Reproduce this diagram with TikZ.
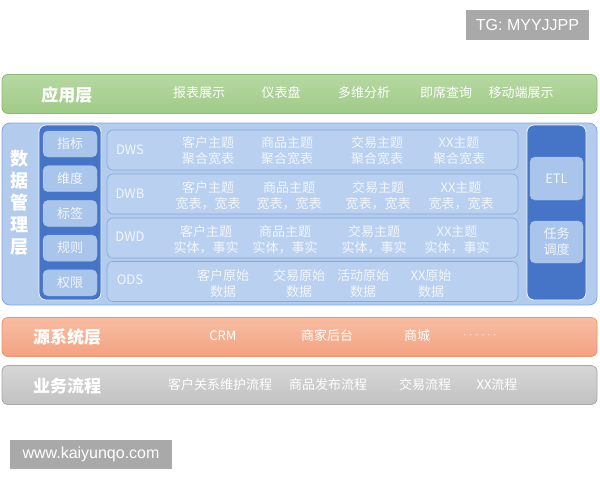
\documentclass[tikz,border=0pt]{standalone}
\usepackage{fontspec}
\setmainfont{Noto Sans CJK SC}
\newfontfamily\latinfont{Liberation Sans}
\usepackage{tikz}
\usetikzlibrary{calc}
\definecolor{greentop}{HTML}{B6D8A2}
\definecolor{greenbot}{HTML}{A0CB88}
\definecolor{greenline}{HTML}{8DB878}
\definecolor{orangetop}{HTML}{F8BDA2}
\definecolor{orangebot}{HTML}{F3A282}
\definecolor{orangeline}{HTML}{E8956F}
\definecolor{graytop}{HTML}{D6D6D6}
\definecolor{graybot}{HTML}{C2C2C2}
\definecolor{grayline}{HTML}{A8A8A8}
\definecolor{paleblue}{HTML}{B3CCEE}
\definecolor{blueline}{HTML}{86A9DC}
\definecolor{darkblue}{HTML}{4675C8}
\definecolor{cellblue}{HTML}{A9C5EC}
\definecolor{rowblue}{HTML}{B9D0F1}
\definecolor{softwhite}{HTML}{F2F6FC}
\definecolor{tagbox}{HTML}{A9A9A9}
\tikzset{
  bar/.style={draw, line width=0.8pt, rounded corners=6pt, minimum width=595pt, minimum height=39pt},
  bartitle/.style={text=white, font=\fontsize{17}{17}\selectfont\bfseries},
  baritem/.style={text=white, font=\fontsize{13}{13}\selectfont},
  rowbox/.style={draw=blueline, fill=rowblue, line width=0.6pt, rounded corners=6pt, minimum width=411pt, minimum height=40pt},
  rowtext/.style={text=softwhite, align=center, font=\fontsize{13}{16}\selectfont},
  cellbox/.style={draw=blueline!70, fill=cellblue, rounded corners=5pt, text=softwhite, align=center, font=\fontsize{13}{16}\selectfont},
  tagnode/.style={fill=tagbox, text=white, font=\latinfont\fontsize{16}{16}\selectfont}
}
\begin{document}
\begin{tikzpicture}[x=1pt, y=-1pt]
			%%%%% START %%%%%
			\useasboundingbox (0, 0) rectangle (600, 480);
			\fill[white] (0, 0) rectangle (600, 480);
			
			\node[tagnode, minimum width=123pt, minimum height=30pt] (tg) at (527.5, 25) {TG: MYYJJPP};
			
			% application layer
			\node[bar, draw=greenline, top color=greentop, bottom color=greenbot] (app) at (299.5, 94) {};
			\node[bartitle] (apptitle) at (67, 95) {应用层};
			\node[baritem] (app1) at (199, 93) {报表展示};
			\node[baritem] (app2) at (281, 93) {仪表盘};
			\node[baritem] (app3) at (364, 93) {多维分析};
			\node[baritem] (app4) at (446, 93) {即席查询};
			\node[baritem] (app5) at (521, 93) {移动端展示};
			
			% data management layer
			\node[draw=blueline, fill=paleblue, line width=0.8pt, rounded corners=8pt, minimum width=595pt, minimum height=182pt] (data) at (299.5, 214) {};
			\node[text=white, align=center, font=\fontsize{18}{22}\selectfont\bfseries] (datatitle) at (19, 203) {数\\据\\管\\理\\层};
			
			\node[draw=softwhite, fill=darkblue, line width=0.8pt, rounded corners=7pt, minimum width=62pt, minimum height=175pt] (leftcol) at (70, 212.5) {};
			\node[cellbox, minimum width=54pt, minimum height=26pt] (idx) at (70, 144) {指标};
			\node[cellbox, minimum width=54pt, minimum height=26pt] (dim) at (70, 178.7) {维度};
			\node[cellbox, minimum width=54pt, minimum height=26pt] (lbl) at (70, 213.4) {标签};
			\node[cellbox, minimum width=54pt, minimum height=26pt] (rule) at (70, 248.1) {规则};
			\node[cellbox, minimum width=54pt, minimum height=26pt] (auth) at (70, 282.8) {权限};
			
			\node[rowbox] (dws) at (312.5, 150) {};
			\node[rowtext] at (130, 150) {DWS};
			\node[rowtext] (dws1) at (208, 151) {客户主题\\聚合宽表};
			\node[rowtext] (dws2) at (287, 151) {商品主题\\聚合宽表};
			\node[rowtext] (dws3) at (377, 151) {交易主题\\聚合宽表};
			\node[rowtext] (dws4) at (459, 151) {XX主题\\聚合宽表};
			
			\node[rowbox] (dwb) at (312.5, 194) {};
			\node[rowtext] at (130, 194) {DWB};
			\node[rowtext] (dwb1) at (208, 196) {客户主题\\宽表，宽表};
			\node[rowtext] (dwb2) at (289, 196) {商品主题\\宽表，宽表};
			\node[rowtext] (dwb3) at (378, 196) {交易主题\\宽表，宽表};
			\node[rowtext] (dwb4) at (461, 196) {XX主题\\宽表，宽表};
			
			\node[rowbox] (dwd) at (312.5, 238) {};
			\node[rowtext] at (130, 237) {DWD};
			\node[rowtext] (dwd1) at (206, 240) {客户主题\\实体，事实};
			\node[rowtext] (dwd2) at (285, 240) {商品主题\\实体，事实};
			\node[rowtext] (dwd3) at (374, 240) {交易主题\\实体，事实};
			\node[rowtext] (dwd4) at (457, 240) {XX主题\\实体，事实};
			
			\node[rowbox] (ods) at (312.5, 281.5) {};
			\node[rowtext] at (130, 280) {ODS};
			\node[rowtext] (ods1) at (223, 284) {客户原始\\数据};
			\node[rowtext] (ods2) at (299, 284) {交易原始\\数据};
			\node[rowtext] (ods3) at (363, 284) {活动原始\\数据};
			\node[rowtext] (ods4) at (431, 284) {XX原始\\数据};
			
			\node[draw=softwhite, fill=darkblue, line width=0.8pt, rounded corners=7pt, minimum width=59pt, minimum height=175pt] (rightcol) at (556.5, 212.5) {};
			\node[cellbox, minimum width=53pt, minimum height=43pt] (etl) at (556.5, 178.5) {ETL};
			\node[cellbox, minimum width=53pt, minimum height=42pt] (sched) at (556.5, 242) {任务\\调度};
			
			% source system layer
			\node[bar, draw=orangeline, top color=orangetop, bottom color=orangebot] (src) at (299.5, 337) {};
			\node[bartitle] (srctitle) at (67, 337) {源系统层};
			\node[baritem] (src1) at (223, 336) {CRM};
			\node[baritem] (src2) at (327, 336) {商家后台};
			\node[baritem] (src3) at (417, 336) {商城};
			\node[baritem, text=white!75!orangetop, font=\fontsize{6}{6}\selectfont, inner sep=0pt] (src4) at (480, 336) {\kern-0.5pt ······};
			
			% business process
			\node[bar, draw=grayline, top color=graytop, bottom color=graybot] (biz) at (299.5, 385) {};
			\node[bartitle] (biztitle) at (67, 386) {业务流程};
			\node[baritem] (biz1) at (220, 385) {客户关系维护流程};
			\node[baritem] (biz2) at (328, 385) {商品发布流程};
			\node[baritem] (biz3) at (425, 385) {交易流程};
			\node[baritem] (biz4) at (497, 385) {XX流程};
			
			\node[tagnode, minimum width=162pt, minimum height=29pt] (www) at (91, 454.5) {www.kaiyunqo.com};
			%%%%% END %%%%%
\end{tikzpicture}
\end{document}
